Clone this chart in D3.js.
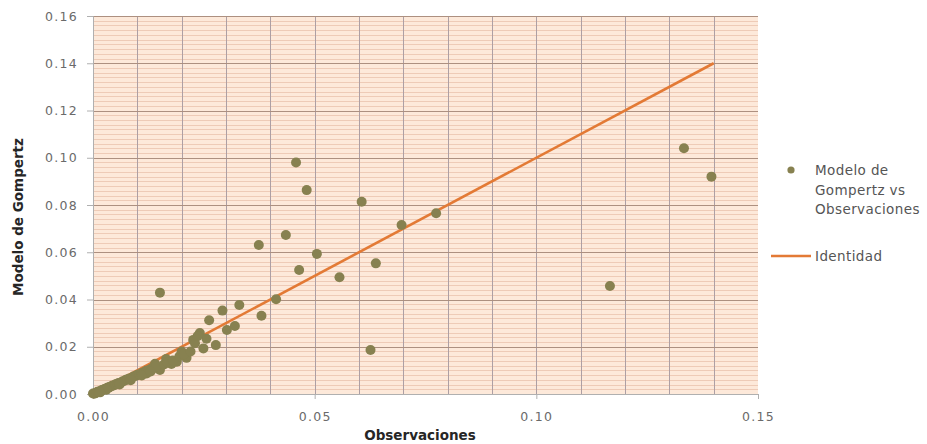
<!DOCTYPE html>
<html>
<head>
<meta charset="utf-8">
<script src="https://cdn.jsdelivr.net/npm/d3@7"></script>
<style>
  html, body { margin: 0; padding: 0; background: #ffffff; }
  svg { display: block; }
</style>
</head>
<body>
<svg id="chart" width="927" height="444"></svg>
<script>
// ---- Data ----
const obsX = [
  0.0458, 0.0482, 0.0606, 0.0696, 0.0774, 0.0435, 0.0374, 0.0505, 0.0465, 0.0638,
  0.0556, 0.0626, 0.1166, 0.1333, 0.1395, 0.0413, 0.0380, 0.0330, 0.0292, 0.0262,
  0.0320, 0.0302, 0.0241, 0.0277, 0.0256, 0.0226, 0.0249, 0.0211, 0.0189, 0.0151,
  0.0177, 0.0151, 0.0121, 0.0140, 0.0165, 0.0200, 0.0230, 0.0236,
  0.0000, 0.0003, 0.0005, 0.0008, 0.0010, 0.0012, 0.0015, 0.0018, 0.0020, 0.0023,
  0.0026, 0.0029, 0.0032, 0.0035, 0.0038, 0.0041, 0.0044, 0.0048, 0.0051, 0.0055,
  0.0058, 0.0062, 0.0066, 0.0070, 0.0074, 0.0078, 0.0082, 0.0087, 0.0091, 0.0096,
  0.0100, 0.0105, 0.0110, 0.0115, 0.0120, 0.0126, 0.0131, 0.0137, 0.0143, 0.0160,
  0.0168, 0.0180, 0.0195, 0.0205, 0.0220,
  0.0060, 0.0085, 0.0110, 0.0130, 0.0030, 0.0016
];
const modelY = [
  0.0980, 0.0863, 0.0814, 0.0715, 0.0765, 0.0673, 0.0631, 0.0593, 0.0525, 0.0553,
  0.0494, 0.0186, 0.0457, 0.1040, 0.0920, 0.0401, 0.0331, 0.0377, 0.0353, 0.0312,
  0.0288, 0.0271, 0.0258, 0.0207, 0.0234, 0.0229, 0.0193, 0.0153, 0.0137, 0.0429,
  0.0127, 0.0102, 0.0087, 0.0128, 0.0148, 0.0180, 0.0215, 0.0245,
  0.0002, 0.0001, 0.0004, 0.0005, 0.0009, 0.0008, 0.0012, 0.0013, 0.0017, 0.0018,
  0.0021, 0.0022, 0.0026, 0.0027, 0.0031, 0.0032, 0.0036, 0.0037, 0.0041, 0.0043,
  0.0047, 0.0048, 0.0053, 0.0055, 0.0060, 0.0061, 0.0066, 0.0068, 0.0074, 0.0076,
  0.0081, 0.0083, 0.0089, 0.0092, 0.0098, 0.0101, 0.0107, 0.0109, 0.0117, 0.0125,
  0.0133, 0.0142, 0.0160, 0.0168, 0.0180,
  0.0040, 0.0058, 0.0078, 0.0095, 0.0018, 0.0007
];
const identityX = [0, 0.14];
const identityY = [0, 0.14];

const xTicks = [0, 0.05, 0.10, 0.15];
const yTicks = [0, 0.02, 0.04, 0.06, 0.08, 0.10, 0.12, 0.14, 0.16];
const xGridVals = [0.01,0.02,0.03,0.04,0.05,0.06,0.07,0.08,0.09,0.10,0.11,0.12,0.13,0.14];
const yMinorVals = d3.range(1, 80).map(i => i * 0.002);

const seriesNames = ["Modelo de Gompertz vs Observaciones", "Identidad"];
const xTitle = "Observaciones";
const yTitle = "Modelo de Gompertz";

// ---- Layout ----
const plot = { left: 93, right: 758, top: 16, bottom: 394 };
const svg = d3.select("#chart");

const x = d3.scaleLinear().domain([0, 0.15]).range([plot.left, plot.right]);
const y = d3.scaleLinear().domain([0, 0.16]).range([plot.bottom, plot.top]);

// Background
svg.append("rect")
  .attr("x", plot.left).attr("y", plot.top)
  .attr("width", plot.right - plot.left).attr("height", plot.bottom - plot.top)
  .attr("fill", "#fde9da");

// Minor horizontal gridlines
svg.append("g").selectAll("line")
  .data(yMinorVals.filter(v => Math.abs(v / 0.02 - Math.round(v / 0.02)) > 1e-6))
  .join("line")
  .attr("x1", plot.left).attr("x2", plot.right)
  .attr("y1", d => Math.round(y(d)) + 0.5).attr("y2", d => Math.round(y(d)) + 0.5)
  .attr("stroke", "#eecbb7").attr("stroke-width", 1);

// Vertical gridlines
svg.append("g").selectAll("line")
  .data(xGridVals)
  .join("line")
  .attr("x1", d => Math.round(x(d)) + 0.5).attr("x2", d => Math.round(x(d)) + 0.5)
  .attr("y1", plot.top).attr("y2", plot.bottom)
  .attr("stroke", "#ad9fa4").attr("stroke-width", 1);

// Major horizontal gridlines
svg.append("g").selectAll("line")
  .data(yTicks.slice(1))
  .join("line")
  .attr("x1", plot.left).attr("x2", plot.right)
  .attr("y1", d => Math.round(y(d)) + 0.5).attr("y2", d => Math.round(y(d)) + 0.5)
  .attr("stroke", "#ad9080").attr("stroke-width", 1);

// Axes
const fmt = d3.format(".2f");
const yAxis = svg.append("g")
  .attr("transform", `translate(${plot.left},0)`)
  .call(d3.axisLeft(y).tickValues(yTicks).tickFormat(fmt).tickSize(6).tickPadding(9));
const xAxis = svg.append("g")
  .attr("transform", `translate(0,${plot.bottom})`)
  .call(d3.axisBottom(x).tickValues(xTicks).tickFormat(fmt).tickSize(5).tickPadding(13));

[xAxis, yAxis].forEach(g => {
  g.selectAll(".domain").attr("stroke", "#b0b0b0");
  g.selectAll(".tick line").attr("stroke", "#b0b0b0");
  g.selectAll("text")
    .attr("fill", "#6a6a6a")
    .style("font-family", "'DejaVu Sans', sans-serif")
    .style("font-size", "12.5px")
    .style("letter-spacing", "1.3px");
});

// Identity line
const lineGen = d3.line().x(d => x(d[0])).y(d => y(d[1]));
svg.append("path")
  .datum(d3.zip(identityX, identityY))
  .attr("d", lineGen)
  .attr("fill", "none")
  .attr("stroke", "#e37a35")
  .attr("stroke-width", 2.6);

// Scatter points
svg.append("g").selectAll("circle")
  .data(d3.zip(obsX, modelY))
  .join("circle")
  .attr("cx", d => x(d[0]))
  .attr("cy", d => y(d[1]))
  .attr("r", 5)
  .attr("fill", "#878150");

// Axis titles
svg.append("text")
  .attr("x", 420).attr("y", 440)
  .attr("text-anchor", "middle")
  .attr("fill", "#262626")
  .style("font-family", "'DejaVu Sans', sans-serif")
  .style("font-weight", "bold")
  .style("font-size", "13.5px")
  .text(xTitle);

svg.append("text")
  .attr("transform", "translate(23,217) rotate(-90)")
  .attr("text-anchor", "middle")
  .attr("fill", "#262626")
  .style("font-family", "'DejaVu Sans', sans-serif")
  .style("font-weight", "bold")
  .style("font-size", "13.5px")
  .text(yTitle);

// Legend
const legend = svg.append("g")
  .style("font-family", "'DejaVu Sans', sans-serif")
  .style("font-size", "13.5px")
  .attr("fill", "#555555");

legend.append("circle").attr("cx", 791).attr("cy", 170).attr("r", 3.6).attr("fill", "#878150");
const t1 = legend.append("text").attr("x", 815).attr("y", 175).style("letter-spacing", "0.4px");
["Modelo de", "Gompertz vs", "Observaciones"].forEach((s, i) => {
  t1.append("tspan").attr("x", 815).attr("dy", i === 0 ? 0 : 19.5).text(s);
});
legend.append("line")
  .attr("x1", 771).attr("x2", 811).attr("y1", 256).attr("y2", 256)
  .attr("stroke", "#e37a35").attr("stroke-width", 2.6);
legend.append("text").attr("x", 815).attr("y", 261).style("letter-spacing", "0.4px").text(seriesNames[1]);
</script>
</body>
</html>
